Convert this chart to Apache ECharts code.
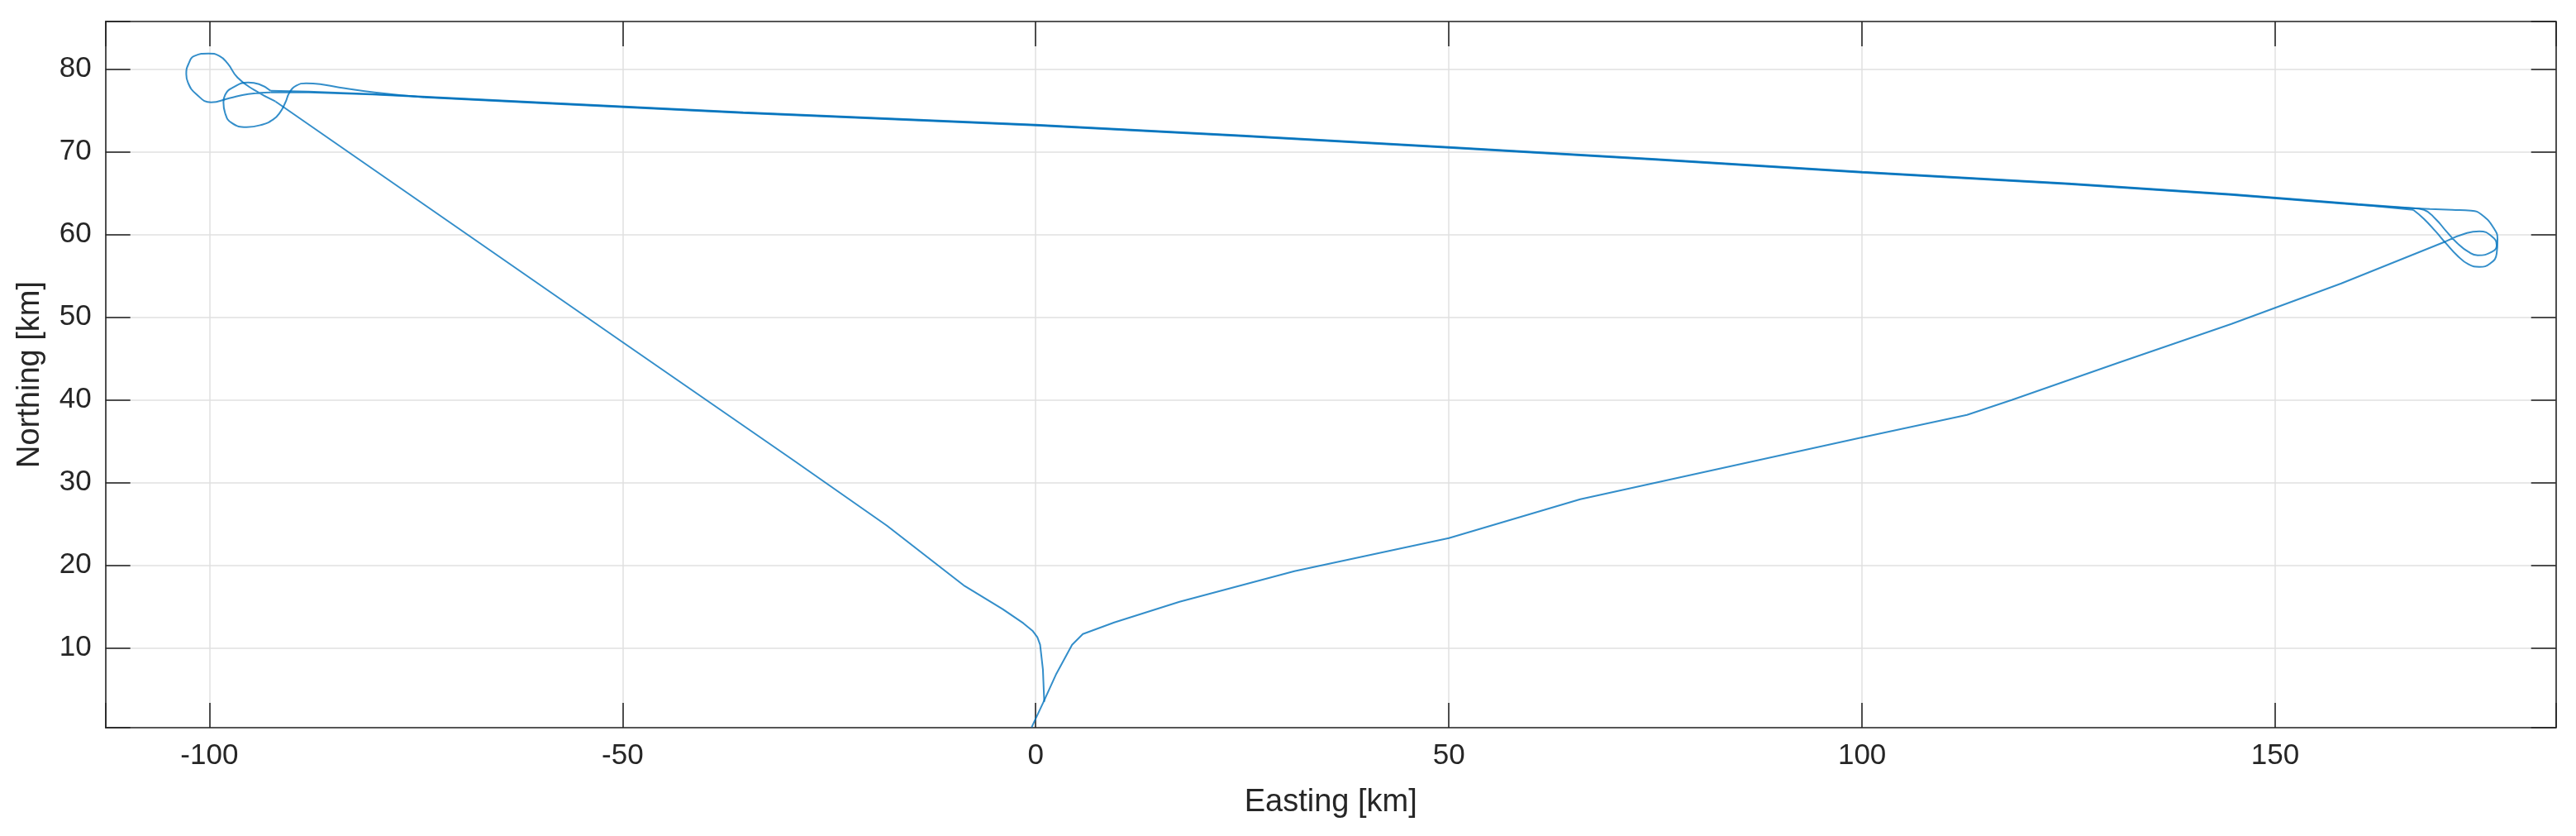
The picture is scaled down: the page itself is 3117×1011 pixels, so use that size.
<!DOCTYPE html>
<html>
<head>
<meta charset="utf-8">
<title>Flight track</title>
<script src="https://cdn.jsdelivr.net/npm/echarts@6/dist/echarts.min.js"></script>
<style>
  html, body { margin: 0; padding: 0; background: #ffffff; }
  #track { width: 3117px; height: 1011px; }
</style>
</head>
<body>
<div id="track"></div>
<script>
  // axis limits [km]
  var xLimits = [-112.57, 183.97];
  var yLimits = [0.37, 85.77];
  var xStep = 50;
  var yStep = 10;

  // takeoff and outbound leg to the east
  var climbOut = [
    [-0.5, 0.4], [1.0, 3.6], [2.5, 6.9], [4.4, 10.4], [5.7, 11.7], [9.5, 13.1],
    [17.4, 15.6], [31.3, 19.3], [50, 23.3], [65.9, 28.0], [100.1, 35.5],
    [112.7, 38.2], [118.1, 40.0], [131, 44.5], [144.7, 49.2], [158.0, 54.1],
    [170.7, 59.2]
  ];
  // first turn at the east end
  var eastTurn1 = [
    [170.7, 59.2], [173.2, 60.2], [174.7, 60.4], [176.2, 59.8], [176.8, 58.7],
    [176.2, 57.9], [174.5, 57.5], [173.4, 57.9], [172.0, 59.0], [170.7, 60.4],
    [169.4, 61.9], [168.0, 63.0], [166.7, 63.2]
  ];
  // first westbound pass
  var westPass1 = [
    [166.7, 63.2], [160, 63.7], [144.7, 64.9], [125, 66.2], [100, 67.6],
    [75, 69.15], [50, 70.6], [25, 72.0], [0, 73.3], [-20, 74.15], [-35.4, 74.8],
    [-60, 76.0], [-80.3, 77.0], [-88, 77.3], [-92.6, 77.4]
  ];
  // small turn at the west end
  var westTurn1 = [
    [-92.6, 77.4], [-94.0, 78.2], [-95.3, 78.4], [-97.3, 77.7], [-98.1, 76.9],
    [-98.3, 76.0], [-98.1, 74.7], [-97.3, 73.5], [-95.5, 73.0], [-93.6, 73.3],
    [-92.3, 73.9], [-91.5, 74.7], [-90.8, 76.0], [-90.3, 77.2], [-89.5, 78.0],
    [-88.3, 78.3], [-86.6, 78.2], [-84.3, 77.8], [-80.0, 77.2], [-74.0, 76.6]
  ];
  // eastbound pass
  var eastPass2 = [
    [-74.0, 76.6], [-60, 75.9], [-35.4, 74.7], [-20, 74.05], [0, 73.2],
    [25, 71.9], [50, 70.5], [75, 69.05], [100, 67.5], [125, 66.1],
    [144.7, 64.8], [160, 63.6], [166.4, 63.2]
  ];
  // second turn at the east end
  var eastTurn2 = [
    [166.4, 63.2], [168.7, 63.1], [171.4, 63.0], [173.7, 62.9], [175.0, 62.4],
    [176.5, 60.7], [176.9, 59.4], [176.8, 57.7], [176.0, 56.5], [174.7, 56.1],
    [173.4, 56.4], [172.0, 57.5], [170.7, 58.9], [169.4, 60.4], [168.0, 61.9],
    [166.7, 63.0]
  ];
  // last westbound pass
  var westPass3 = [
    [166.7, 63.0], [160, 63.65], [144.7, 64.85], [125, 66.15], [100, 67.55],
    [75, 69.1], [50, 70.55], [25, 71.95], [0, 73.25], [-20, 74.1], [-35.4, 74.75],
    [-60, 75.95], [-80.3, 76.95], [-88, 77.2], [-92.6, 77.2]
  ];
  // large turn at the west end
  var westTurn2 = [
    [-92.6, 77.2], [-95.3, 77.0], [-97.6, 76.5], [-99.8, 76.0], [-101.6, 77.0],
    [-102.6, 78.4], [-102.8, 79.4], [-102.5, 80.7], [-101.8, 81.6], [-100.1, 81.9],
    [-98.8, 81.6], [-97.8, 80.7], [-96.6, 79.0], [-94.6, 77.5], [-92.0, 76.1]
  ];
  // return leg and landing
  var descent = [
    [-92.0, 76.1], [-50, 47.0], [-29.3, 32.7], [-18.0, 24.8], [-8.6, 17.5],
    [-4.0, 14.7], [-1.5, 13.0], [-0.4, 12.1], [0.2, 11.3], [0.53, 10.4],
    [0.87, 7.4], [1.03, 3.5]
  ];

  var legs = [
    { data: climbOut, curved: false },
    { data: eastTurn1, curved: true },
    { data: westPass1, curved: false },
    { data: westTurn1, curved: true },
    { data: eastPass2, curved: false },
    { data: eastTurn2, curved: true },
    { data: westPass3, curved: false },
    { data: westTurn2, curved: true },
    { data: descent, curved: false }
  ];

  var ink = '#262626';
  var fontFamily = '"Liberation Sans", Arial, Helvetica, sans-serif';

  function onStep(step) {
    return function (v) {
      var r = Math.round(v / step) * step;
      return Math.abs(v - r) < 1e-6 ? String(r) : '';
    };
  }

  function makeAxis(limits, step, pos, withText, name) {
    return {
      type: 'value',
      position: pos,
      min: limits[0],
      max: limits[1],
      minInterval: step,
      maxInterval: step,
      name: withText ? name : '',
      nameLocation: 'middle',
      nameGap: 72,
      nameTextStyle: { fontSize: 38, color: ink, fontFamily: fontFamily },
      axisLine: { show: true, onZero: false, lineStyle: { color: ink, width: 1.6 } },
      axisTick: { show: true, inside: true, length: 30, lineStyle: { color: ink, width: 1.6 } },
      axisLabel: {
        show: withText,
        fontSize: 35,
        color: ink,
        fontFamily: fontFamily,
        margin: 17,
        formatter: onStep(step)
      },
      splitLine: { show: withText, lineStyle: { color: '#e0e0e0', width: 1.5 } }
    };
  }

  var chart = echarts.init(document.getElementById('track'), null, { renderer: 'canvas' });

  var option = {
    animation: false,
    backgroundColor: '#ffffff',
    grid: {
      left: 127.7,
      right: 24.3,
      top: 26,
      bottom: 131,
      containLabel: false,
      outerBoundsMode: 'none'
    },
    xAxis: [
      makeAxis(xLimits, xStep, 'bottom', true, 'Easting [km]'),
      makeAxis(xLimits, xStep, 'top', false, '')
    ],
    yAxis: [
      makeAxis(yLimits, yStep, 'left', true, 'Northing [km]'),
      makeAxis(yLimits, yStep, 'right', false, '')
    ],
    series: legs.map(function (leg) {
      return {
        type: 'line',
        xAxisIndex: 0,
        yAxisIndex: 0,
        data: leg.data,
        showSymbol: false,
        symbol: 'none',
        smooth: leg.curved ? 0.5 : false,
        clip: true,
        lineStyle: { color: '#0072BD', width: 2, opacity: 0.8 }
      };
    })
  };

  chart.setOption(option);
</script>
</body>
</html>
